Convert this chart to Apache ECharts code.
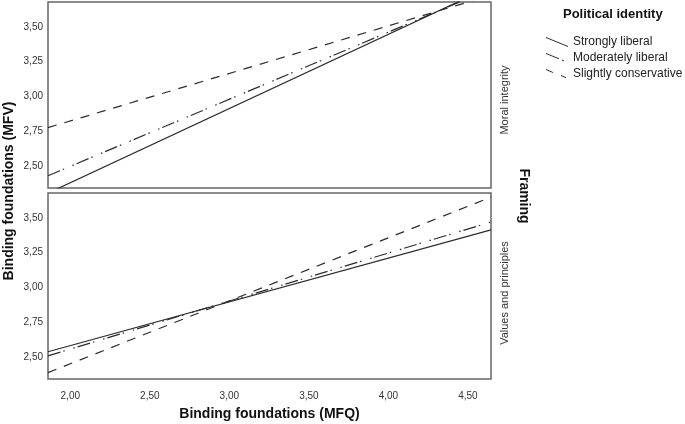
<!DOCTYPE html>
<html>
<head>
<meta charset="utf-8">
<script src="https://cdn.jsdelivr.net/npm/echarts@6/dist/echarts.min.js"></script>
<style>
  html, body { margin: 0; padding: 0; background: #fff; }
  #chart { width: 685px; height: 424px; }
</style>
</head>
<body>
<div id="chart"></div>
<script>
  // fitted lines, given at the two ends of the MFQ axis
  const xEnds = [1.86, 4.645];
  const panels = ['Moral integrity', 'Values and principles'];
  const groups = ['Strongly liberal', 'Moderately liberal', 'Slightly conservative'];
  const moralStrong = [2.303, 3.792];
  const moralModerate = [2.428, 3.775];
  const moralSlight = [2.775, 3.729];
  const valuesStrong = [2.536, 3.414];
  const valuesModerate = [2.507, 3.471];
  const valuesSlight = [2.386, 3.65];
  const xTicks = [2, 2.5, 3, 3.5, 4, 4.5];
  const yTicks = [2.5, 2.75, 3, 3.25, 3.5];

  const font = 'Arial, "Liberation Sans", sans-serif';
  const ink = '#2b2b2b';
  const dashes = ['solid', [13, 3, 1.5, 9, 1.5, 3], [9, 8]];
  const icons = [
    'path://M0,0L22,9L22,10L0,1Z',
    'path://M0,0L13,5.3L13,6.3L0,1ZM16,6.5L18,7.4L18,8.4L16,7.5ZM22,10',
    'path://M0,0L7,2.9L7,3.9L0,1ZM15,6.1L20,8.2L20,9.2L15,7.1ZM22,10'
  ];
  const comma = v => v.toFixed(2).replace('.', ',');

  const chart = echarts.init(document.getElementById('chart'));

  function line(name, vals, gi, idx) {
    return {
      name: name,
      type: 'line',
      xAxisIndex: gi,
      yAxisIndex: gi,
      data: xEnds.map((x, i) => [x, vals[i]]),
      symbol: 'none',
      silent: true,
      clip: true,
      color: ink,
      lineStyle: { color: ink, width: 1.2, type: dashes[idx] }
    }
  }

  const yAxisBase = gi => ({
    type: 'value',
    gridIndex: gi,
    min: 2.34,
    max: 3.68,
    axisLine: { show: false },
    axisTick: { show: false },
    splitLine: { show: false },
    axisLabel: {
      customValues: yTicks,
      formatter: comma,
      fontSize: 10,
      color: '#333',
      fontFamily: font,
      margin: 5
    }
  });

  chart.setOption({
    animation: false,
    grid: [
      { left: 48, top: 2, width: 443, height: 186, show: true, borderColor: '#666', borderWidth: 1.5 },
      { left: 48, top: 193, width: 443, height: 186, show: true, borderColor: '#666', borderWidth: 1.5 }
    ],
    xAxis: [
      { type: 'value', gridIndex: 0, min: xEnds[0], max: xEnds[1], show: false },
      {
        type: 'value',
        gridIndex: 1,
        min: xEnds[0],
        max: xEnds[1],
        axisLine: { show: false },
        axisTick: { show: false },
        splitLine: { show: false },
        axisLabel: {
          customValues: xTicks,
          formatter: comma,
          fontSize: 10,
          color: '#333',
          fontFamily: font,
          margin: 12
        },
        name: 'Binding foundations (MFQ)',
        nameLocation: 'middle',
        nameGap: 28,
        nameTextStyle: { fontSize: 14, fontWeight: 'bold', color: '#111', fontFamily: font }
      }
    ],
    yAxis: [yAxisBase(0), yAxisBase(1)],
    legend: {
      orient: 'vertical',
      left: 541,
      top: 31,
      itemWidth: 22,
      itemHeight: 10,
      itemGap: 4,
      selectedMode: false,
      itemStyle: { color: ink, borderWidth: 0 },
      textStyle: { fontSize: 12, color: '#222', fontFamily: font },
      data: groups.map((g, i) => ({ name: g, icon: icons[i] }))
    },
    graphic: [
      { type: 'text', left: 563, top: 8, style: { text: 'Political identity', font: 'bold 13px ' + font, fill: '#111' } },
      { type: 'text', x: 9, y: 191, rotation: Math.PI / 2,
        style: { text: 'Binding foundations (MFV)', font: 'bold 14px ' + font, fill: '#111', align: 'center', verticalAlign: 'middle' } },
      { type: 'text', x: 505, y: 100, rotation: Math.PI / 2,
        style: { text: panels[0], font: '11px ' + font, fill: '#333', align: 'center', verticalAlign: 'middle' } },
      { type: 'text', x: 505, y: 293, rotation: Math.PI / 2,
        style: { text: panels[1], font: '11px ' + font, fill: '#333', align: 'center', verticalAlign: 'middle' } },
      { type: 'text', x: 524, y: 196, rotation: -Math.PI / 2,
        style: { text: 'Framing', font: 'bold 14px ' + font, fill: '#111', align: 'center', verticalAlign: 'middle' } }
    ],
    series: [
      line(groups[0], moralStrong, 0, 0),
      line(groups[1], moralModerate, 0, 1),
      line(groups[2], moralSlight, 0, 2),
      line(groups[0], valuesStrong, 1, 0),
      line(groups[1], valuesModerate, 1, 1),
      line(groups[2], valuesSlight, 1, 2)
    ]
  });
</script>
</body>
</html>
